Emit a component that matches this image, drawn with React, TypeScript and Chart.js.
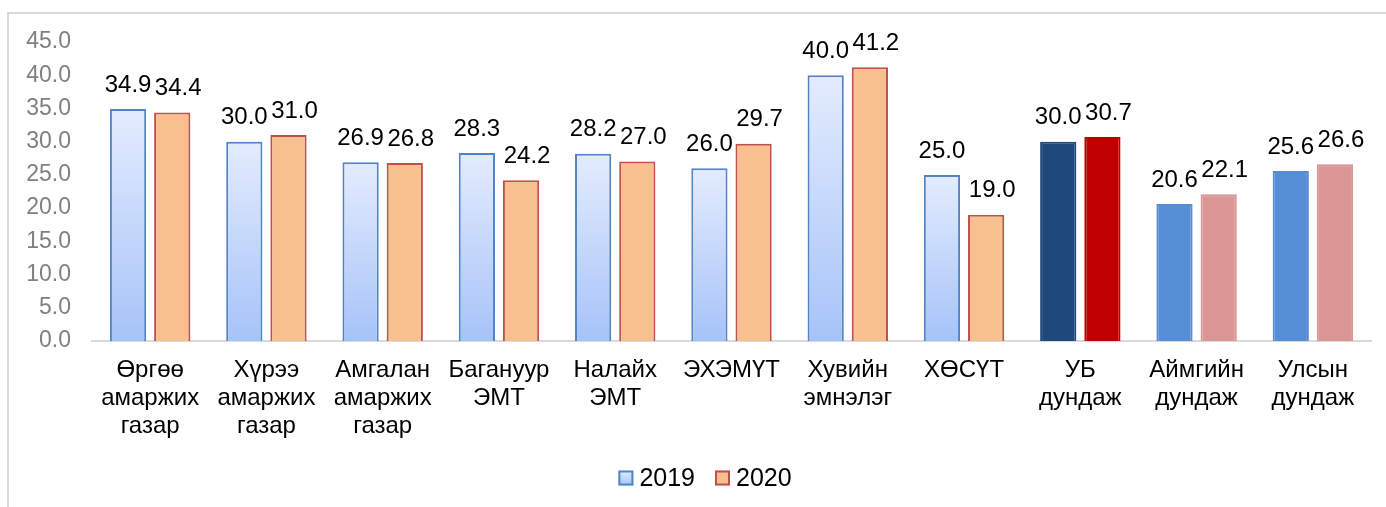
import React, { useEffect, useRef } from "react";
import { Chart, registerables } from "chart.js";

Chart.register(...registerables);

const categories: (string | string[])[] = [
  ["Өргөө", "амаржих", "газар"],
  ["Хүрээ", "амаржих", "газар"],
  ["Амгалан", "амаржих", "газар"],
  ["Багануур", "ЭМТ"],
  ["Налайх", "ЭМТ"],
  "ЭХЭМҮТ",
  ["Хувийн", "эмнэлэг"],
  "ХӨСҮТ",
  ["УБ", "дундаж"],
  ["Аймгийн", "дундаж"],
  ["Улсын", "дундаж"],
];

const values2019 = [34.9, 30.0, 26.9, 28.3, 28.2, 26.0, 40.0, 25.0, 30.0, 20.6, 25.6];
const values2020 = [34.4, 31.0, 26.8, 24.2, 27.0, 29.7, 41.2, 19.0, 30.7, 22.1, 26.6];

const seriesLabels = ["2019", "2020"];

const yTickMin = 0;
const yTickMax = 45;
const yTickStep = 5;

// Styles (per-bar overrides; null = default gradient/peach style)
const special2019: (string | null)[] = [null, null, null, null, null, null, null, null, "#1f497d", "#558ed5", "#558ed5"];
const special2020: (string | null)[] = [null, null, null, null, null, null, null, null, "#c00000", "#d99694", "#d99694"];

const FONT = "'Liberation Sans', Arial, sans-serif";
const BLUE_TOP = "#e3ecfd";
const BLUE_BOTTOM = "#a6c3f8";
const BLUE_BORDER = "#5283c6";
const PEACH = "#f8bf8f";
const PEACH_BORDER = "#c0504d";

function blueGradient(c: CanvasRenderingContext2D, top: number, bottom: number) {
  const g = c.createLinearGradient(0, top, 0, bottom);
  g.addColorStop(0, BLUE_TOP);
  g.addColorStop(1, BLUE_BOTTOM);
  return g;
}

const dataLabelPlugin = {
  id: "dataLabels",
  afterDatasetsDraw(chart: any) {
    const ctx = chart.ctx;
    ctx.save();
    ctx.font = `24px ${FONT}`;
    ctx.fillStyle = "#000000";
    ctx.textAlign = "center";
    ctx.textBaseline = "middle";
    chart.data.datasets.forEach((ds: any, di: number) => {
      const meta = chart.getDatasetMeta(di);
      const dx = di === 1 ? 6 : 0;
      meta.data.forEach((el: any, i: number) => {
        const v = ds.data[i] as number;
        ctx.fillText(v.toFixed(1), el.x + dx, el.y - 24);
      });
    });
    ctx.restore();
  },
};

const customLegendPlugin = {
  id: "customLegend",
  afterDraw(chart: any) {
    const ctx = chart.ctx;
    ctx.save();
    ctx.font = `25px ${FONT}`;
    ctx.textBaseline = "middle";
    ctx.textAlign = "left";
    const box = 15;
    const gap = 6;
    const spacing = 20;
    const cy = 478;
    const items = chart.data.datasets.map((d: any) => d.label as string);
    const widths = items.map((t: string) => ctx.measureText(t).width);
    const total = widths.reduce((a: number, w: number) => a + box + gap + w, 0) + spacing * (items.length - 1);
    let x = 705 - total / 2;
    items.forEach((t: string, i: number) => {
      const top = cy - box / 2;
      if (i === 0) {
        ctx.fillStyle = blueGradient(ctx, top, top + box);
        ctx.strokeStyle = BLUE_BORDER;
      } else {
        ctx.fillStyle = PEACH;
        ctx.strokeStyle = PEACH_BORDER;
      }
      ctx.fillRect(x, top, box, box);
      ctx.lineWidth = 2;
      ctx.strokeRect(x + 1, top + 1, box - 2, box - 2);
      ctx.fillStyle = "#000000";
      ctx.fillText(t, x + box + gap, cy + 1);
      x += box + gap + widths[i] + spacing;
    });
    ctx.restore();
  },
};

export default function App() {
  const canvasRef = useRef<HTMLCanvasElement | null>(null);

  useEffect(() => {
    const canvas = canvasRef.current;
    if (!canvas) return;

    const bg2019 = (c: any) => {
      const s = special2019[c.dataIndex];
      if (s) return s;
      const chart = c.chart;
      if (!chart.chartArea || !chart.scales || !chart.scales.y) return "#c4d7fa";
      const y = chart.scales.y;
      const top = y.getPixelForValue(c.raw);
      const bottom = y.getPixelForValue(0);
      return blueGradient(chart.ctx, top, bottom);
    };

    const chart = new Chart(canvas, {
      type: "bar",
      data: {
        labels: categories,
        datasets: [
          {
            label: seriesLabels[0],
            data: values2019,
            backgroundColor: bg2019,
            borderColor: (c: any) => special2019[c.dataIndex] || BLUE_BORDER,
            borderWidth: 2,
            categoryPercentage: 0.76,
            barPercentage: 0.82,
          },
          {
            label: seriesLabels[1],
            data: values2020,
            backgroundColor: (c: any) => special2020[c.dataIndex] || PEACH,
            borderColor: (c: any) => special2020[c.dataIndex] || PEACH_BORDER,
            borderWidth: 2,
            categoryPercentage: 0.76,
            barPercentage: 0.82,
          },
        ],
      },
      options: {
        animation: false,
        responsive: false,
        maintainAspectRatio: false,
        devicePixelRatio: 1,
        layout: { padding: { left: 0, top: 42, right: 15, bottom: 46 } },
        plugins: {
          legend: { display: false },
          tooltip: { enabled: false },
          title: { display: false },
        },
        scales: {
          x: {
            grid: { display: false, drawTicks: false },
            border: { display: true, color: "#d9d9d9", width: 2 },
            ticks: {
              color: "#000000",
              font: { family: FONT, size: 24, lineHeight: "28px" } as any,
              padding: 15,
              maxRotation: 0,
              minRotation: 0,
              autoSkip: false,
            },
            afterFit: (scale: any) => {
              scale.height = 120;
            },
          },
          y: {
            min: yTickMin,
            max: yTickMax,
            grid: { display: false, drawTicks: false },
            border: { display: false },
            ticks: {
              stepSize: yTickStep,
              color: "#808080",
              font: { family: FONT, size: 23 },
              padding: 21,
              callback: (v: any) => Number(v).toFixed(1),
            },
            afterFit: (scale: any) => {
              scale.width = 92;
            },
          },
        },
      },
      plugins: [dataLabelPlugin, customLegendPlugin],
    });

    return () => {
      chart.destroy();
    };
  }, []);

  return (
    <div>
      <div
        style={{
          position: "fixed",
          left: 7,
          top: 12,
          width: 1420,
          height: 620,
          border: "2px solid #d9d9d9",
          boxSizing: "border-box",
          background: "#ffffff",
        }}
      />
      <canvas
        ref={canvasRef}
        width={1386}
        height={507}
        style={{ position: "fixed", left: 0, top: 0, width: 1386, height: 507 }}
      />
    </div>
  );
}
